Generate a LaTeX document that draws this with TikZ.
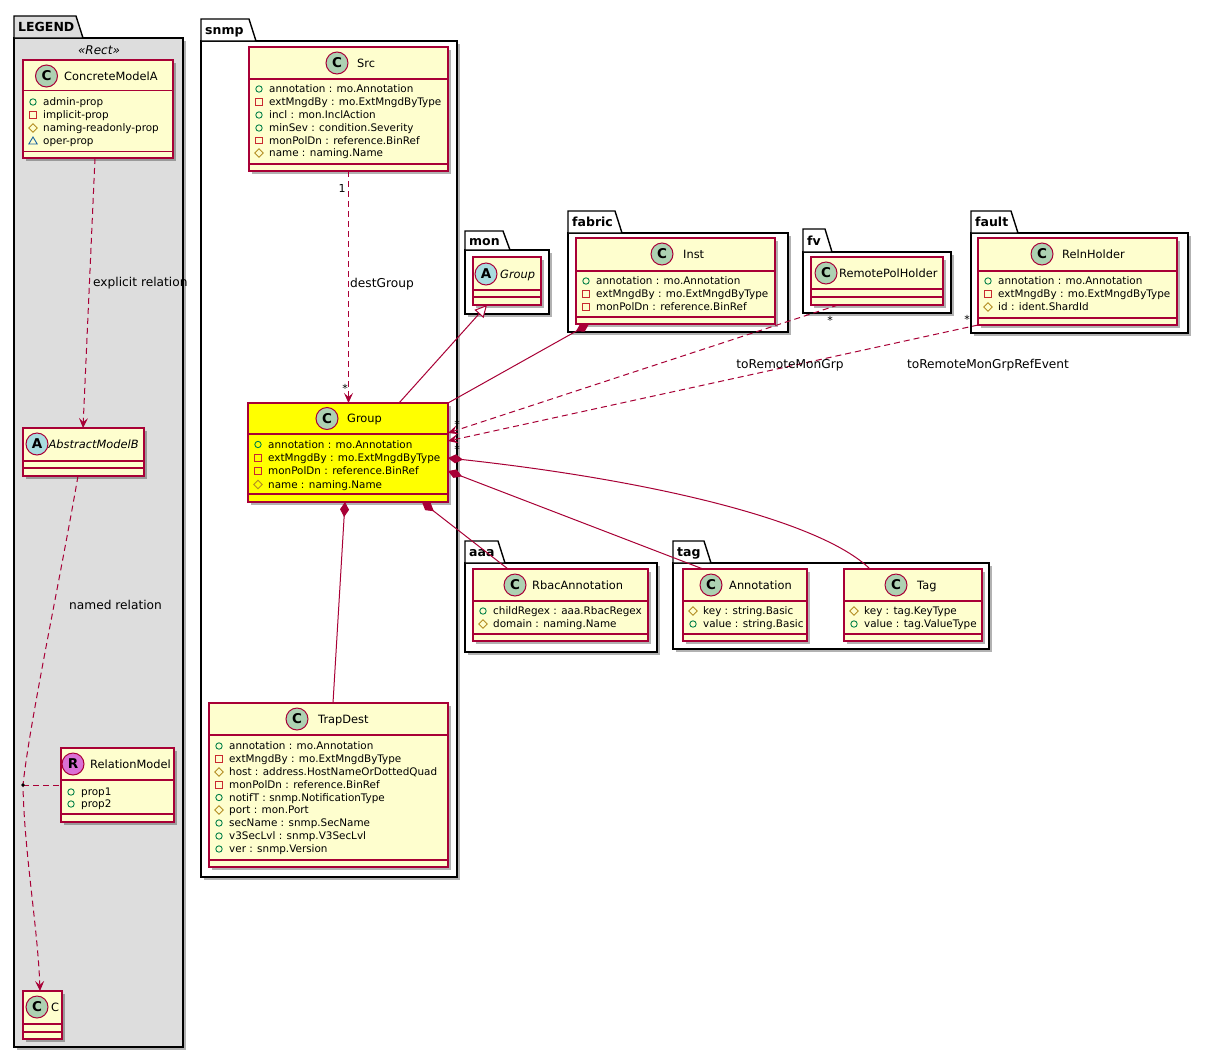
\documentclass[tikz,border=0pt]{standalone}
\usepackage{fontspec}
\setmainfont{DejaVu Sans}
\usetikzlibrary{arrows.meta,shadows,calc}
\definecolor{umlred}{HTML}{A80036}
\definecolor{umlfill}{HTML}{FEFECE}
\definecolor{circC}{HTML}{ADD1B2}
\definecolor{circA}{HTML}{A9DCDF}
\definecolor{circR}{HTML}{DA70D6}
\definecolor{pubgreen}{HTML}{038048}
\definecolor{privred}{HTML}{C82930}
\definecolor{protyel}{HTML}{B38D22}
\definecolor{pkgblue}{HTML}{1963A0}
\definecolor{legendgray}{HTML}{DDDDDD}
\definecolor{groupyel}{HTML}{FFFF00}
\newcount\attrno
\newcommand\attrfont{\fontsize{10.4}{12}\selectfont}
\newcommand\clsnamefont{\fontsize{11.4}{13}\selectfont}
\newcommand\lblfont{\fontsize{12.2}{14}\selectfont}
\newcommand\multfont{\fontsize{11}{12}\selectfont}
\newcommand\pkgfont{\fontsize{12.5}{14}\selectfont\bfseries}
\tikzset{
 clsbox/.style={draw=umlred, line width=1.3pt, inner sep=0pt, outer sep=0pt, anchor=north west,
   drop shadow={shadow xshift=3pt,shadow yshift=-3pt,opacity=0.3,fill=black}},
 sepline/.style={draw=umlred, line width=1.3pt},
 pkgbody/.style={draw=black, line width=1.4pt, inner sep=0pt, outer sep=0pt, anchor=north west,
   drop shadow={shadow xshift=3pt,shadow yshift=-3pt,opacity=0.3,fill=black}},
 pkgline/.style={draw=black, line width=1.4pt, line join=miter},
 pkglabel/.style={anchor=base west, inner sep=0pt, font=\pkgfont},
 circ/.style={circle, draw=umlred, line width=1pt, minimum size=22pt, inner sep=0pt,
   font=\fontsize{13.5}{14}\selectfont\bfseries},
 clsname/.style={anchor=base west, inner sep=0pt},
 attrtext/.style={anchor=base west, inner sep=0pt, font=\attrfont},
 conn/.style={draw=umlred, line width=1pt},
 dconn/.style={conn, dash pattern=on 6pt off 4pt},
 deptip/.style={arrows={-Stealth[length=10pt,width=9pt,inset=4pt]}},
 diatip/.style={arrows={Diamond[length=15pt,width=9pt]-}},
 inhtip/.style={arrows={-Triangle[length=12pt,width=12pt,fill=white]}},
 lbl/.style={anchor=base west, inner sep=0pt, font=\lblfont},
 mult/.style={anchor=base, inner sep=0pt, font=\multfont},
}
\newcommand\umlclass[8]{%
 \pgfmathsetmacro\clsW{#4-#2}\pgfmathsetmacro\clsH{#5-#3}%
 \node[clsbox, fill=#6, minimum width=\clsW pt, minimum height=\clsH pt] (#1) at (#2,#3) {};
 \draw[sepline] (#2,#7) -- (#4,#7) (#2,#8) -- (#4,#8);
}
\newcommand\umlhead[8]{%
 \node[circ, fill=#5] (#1-c) at (#2,#3) {#4};
 \node[clsname, font=\clsnamefont#8] (#1-n) at (#6,#3+4.1) {#7};
}
\newcommand\vispub[2]{\draw[pubgreen, line width=0.9pt] (#1,#2) circle[radius=3.2pt];}
\newcommand\vispriv[2]{\draw[privred, line width=0.9pt] (#1-3.2,#2-3.2) rectangle (#1+3.2,#2+3.2);}
\newcommand\visprot[2]{\draw[protyel, line width=0.9pt] (#1,#2-4.2) -- (#1+4.2,#2) -- (#1,#2+4.2) -- (#1-4.2,#2) -- cycle;}
\newcommand\vispkg[2]{\draw[pkgblue, line width=0.9pt] (#1-4.2,#2+3) -- (#1+4.2,#2+3) -- (#1,#2-4) -- cycle;}
\newcommand\umlattr[4]{%
 \global\advance\attrno by 1
 \csname vis#3\endcsname{#1+10}{#2}%
 \node[attrtext] (attr\the\attrno) at (#1+20,#2+3.8) {#4};
}
\newcommand\umlpkg[9]{%
 \pgfmathsetmacro\pkW{#6-#2}\pgfmathsetmacro\pkH{#7-#5}%
 \node[pkgbody, fill=#9, minimum width=\pkW pt, minimum height=\pkH pt] (#1) at (#2,#5) {};
 \draw[pkgline, fill=#9] (#2,#5) -- (#2,#3) -- (#4-7,#3) -- (#4,#5) -- cycle;
 \node[pkglabel] (#1-t) at (#2+4,{(#3+#5)/2+4.6}) {#8};
}
\begin{document}
\begin{tikzpicture}[x=1pt,y=-1pt]
\fill[white] (0,0) rectangle (1207,1058);
\useasboundingbox (0,0) rectangle (1207,1058);

% packages
\umlpkg{legend}{14}{16}{83}{38}{183}{1047}{LEGEND}{legendgray}
\umlpkg{snmp}{201}{19}{256}{41}{457}{877}{snmp}{white}
\umlpkg{mon}{465}{231}{510}{250}{549}{314}{mon}{white}
\umlpkg{fabric}{568}{211}{622}{233}{788}{332}{fabric}{white}
\umlpkg{fv}{803}{229}{832}{252}{951}{313}{fv}{white}
\umlpkg{fault}{971}{211}{1018}{233}{1188}{333}{fault}{white}
\umlpkg{aaa}{465}{541}{505}{563}{657}{652}{aaa}{white}
\umlpkg{tag}{673}{541}{711}{563}{989}{649}{tag}{white}

\node[font=\fontsize{12}{14}\selectfont\itshape] (stereo) at (99,50) {«Rect»};

% LEGEND classes
\umlclass{cma}{23}{60}{173}{158}{umlfill}{90.5}{151.5}
\umlhead{cma}{46.5}{76}{C}{circC}{64}{ConcreteModelA}{}
\umlattr{23}{102}{pub}{admin-prop}
\umlattr{23}{115}{priv}{implicit-prop}
\umlattr{23}{128}{prot}{naming-readonly-prop}
\umlattr{23}{141}{pkg}{oper-prop}

\umlclass{amb}{23}{428}{144}{476}{umlfill}{461}{468}
\umlhead{amb}{37}{444}{A}{circA}{48.5}{AbstractModelB}{\itshape}

\umlclass{relm}{61}{748}{174}{822}{umlfill}{780}{814}
\umlhead{relm}{73}{764}{R}{circR}{90}{RelationModel}{}
\umlattr{61}{792}{pub}{prop1}
\umlattr{61}{804}{pub}{prop2}

\umlclass{cc}{23}{991}{62}{1039}{umlfill}{1024}{1032}
\umlhead{cc}{37}{1007}{C}{circC}{51}{C}{}

% snmp classes
\umlclass{src}{249}{47}{448}{171}{umlfill}{79}{164}
\umlhead{src}{337}{63}{C}{circC}{357}{Src}{}
\umlattr{249}{89}{pub}{annotation : mo.Annotation}
\umlattr{249}{102}{priv}{extMngdBy : mo.ExtMngdByType}
\umlattr{249}{115}{pub}{incl : mon.InclAction}
\umlattr{249}{128}{pub}{minSev : condition.Severity}
\umlattr{249}{140.5}{priv}{monPolDn : reference.BinRef}
\umlattr{249}{153}{prot}{name : naming.Name}

\umlclass{group}{248}{403}{448}{502}{groupyel}{434}{494}
\umlhead{group}{327}{418.5}{C}{circC}{347}{Group}{}
\umlattr{248}{444.5}{pub}{annotation : mo.Annotation}
\umlattr{248}{458}{priv}{extMngdBy : mo.ExtMngdByType}
\umlattr{248}{471}{priv}{monPolDn : reference.BinRef}
\umlattr{248}{484.5}{prot}{name : naming.Name}

\umlclass{trap}{209}{703}{448}{867}{umlfill}{735}{860}
\umlhead{trap}{297}{719}{C}{circC}{318}{TrapDest}{}
\umlattr{209}{746}{pub}{annotation : mo.Annotation}
\umlattr{209}{759}{priv}{extMngdBy : mo.ExtMngdByType}
\umlattr{209}{772}{prot}{host : address.HostNameOrDottedQuad}
\umlattr{209}{785}{priv}{monPolDn : reference.BinRef}
\umlattr{209}{797.5}{pub}{notifT : snmp.NotificationType}
\umlattr{209}{810}{prot}{port : mon.Port}
\umlattr{209}{823}{pub}{secName : snmp.SecName}
\umlattr{209}{836}{pub}{v3SecLvl : snmp.V3SecLvl}
\umlattr{209}{849}{pub}{ver : snmp.Version}

% other packages
\umlclass{mongrp}{473}{257}{541}{305}{umlfill}{290}{297}
\umlhead{mongrp}{486}{274}{A}{circA}{500}{Group}{\itshape}

\umlclass{inst}{576}{238}{775}{324}{umlfill}{271}{317}
\umlhead{inst}{662}{254}{C}{circC}{683}{Inst}{}
\umlattr{576}{281}{pub}{annotation : mo.Annotation}
\umlattr{576}{294}{priv}{extMngdBy : mo.ExtMngdByType}
\umlattr{576}{307}{priv}{monPolDn : reference.BinRef}

\umlclass{rph}{811}{257}{943}{305}{umlfill}{289}{297}
\umlhead{rph}{826}{273}{C}{circC}{839}{RemotePolHolder}{}

\umlclass{reln}{978}{238}{1177}{325}{umlfill}{271}{318}
\umlhead{reln}{1042}{254}{C}{circC}{1062}{RelnHolder}{}
\umlattr{978}{281}{pub}{annotation : mo.Annotation}
\umlattr{978}{294}{priv}{extMngdBy : mo.ExtMngdByType}
\umlattr{978}{307}{prot}{id : ident.ShardId}

\umlclass{rbac}{473}{569}{648}{641}{umlfill}{601}{634}
\umlhead{rbac}{515}{585}{C}{circC}{532}{RbacAnnotation}{}
\umlattr{473}{611}{pub}{childRegex : aaa.RbacRegex}
\umlattr{473}{624}{prot}{domain : naming.Name}

\umlclass{annot}{683}{569}{807}{641}{umlfill}{601}{634}
\umlhead{annot}{711}{585}{C}{circC}{729}{Annotation}{}
\umlattr{683}{611}{prot}{key : string.Basic}
\umlattr{683}{624}{pub}{value : string.Basic}

\umlclass{tagc}{844}{569}{982}{641}{umlfill}{601}{634}
\umlhead{tagc}{896}{585}{C}{circC}{917}{Tag}{}
\umlattr{844}{611}{prot}{key : tag.KeyType}
\umlattr{844}{624}{pub}{value : tag.ValueType}

% connectors - legend
\draw[dconn, deptip] ([xshift=72pt]cma.south west) -- ([xshift=60pt]amb.north west);
\coordinate (rdot) at (23,785);
\draw[dconn, deptip] ([xshift=55pt]amb.south west) .. controls (60,580) and (30,720) .. (rdot)
   .. controls (24,850) and (38,930) .. ([xshift=17pt]cc.north west);
\draw[dconn] (rdot) -- (relm.west);
\fill (rdot) circle[radius=1.8pt];
\node[lbl] (lexp) at (93,286.3) {explicit relation};
\node[lbl] (lnamed) at (69,609.3) {named relation};

% connectors - snmp
\draw[dconn, deptip] (src.south) -- (src.south |- group.north);
\node[mult] (m1) at (342,192) {1};
\node[mult] (m2) at (345,392) {*};
\node[lbl] (ldest) at (350,287.3) {destGroup};

\draw[conn, inhtip] ([xshift=151pt]group.north west) -- ([xshift=14pt]mongrp.south west);
\draw[conn, diatip] ([xshift=13pt]inst.south west) -- (group.north east);

\draw[dconn, deptip] ([xshift=27pt]rph.south west) -- ([yshift=-30pt]group.north east);
\draw[dconn, deptip] (reln.south west) -- ([yshift=-38pt]group.north east);
\node[mult] (m3) at (457,428) {*};
\node[mult] (m4) at (457,453) {*};
\node[mult] (m5) at (830,324) {*};
\node[mult] (m6) at (967,323) {*};
\node[lbl, anchor=base] (lrmg) at (790,368.3) {toRemoteMonGrp};
\node[lbl, anchor=base] (lrmgre) at (988,368.3) {toRemoteMonGrpRefEvent};

\draw[conn, diatip] ([xshift=97pt]group.south west) -- ([xshift=124pt]trap.north west);
\draw[conn, diatip] ([xshift=174pt]group.south west) -- ([xshift=35pt]rbac.north west);
\draw[conn, diatip] ([yshift=-68pt]group.north east) -- ([xshift=20pt]annot.north west);
\draw[conn, diatip] ([yshift=-55pt]group.north east) .. controls (650,480) and (820,520) .. ([xshift=26pt]tagc.north west);
\end{tikzpicture}
\end{document}
